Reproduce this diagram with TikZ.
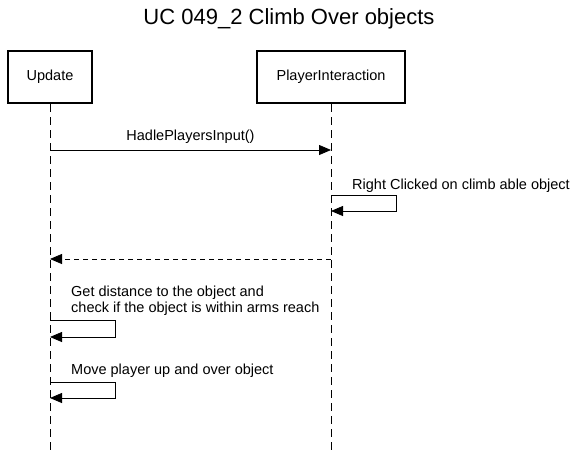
\documentclass[tikz,border=0pt]{standalone}
\usepackage{fontspec}
\setmainfont{Liberation Sans}
\usetikzlibrary{arrows.meta}
\begin{document}
\begin{tikzpicture}[x=1pt,y=-1pt,
  actor/.style={draw=black,line width=2.4pt,minimum width=84pt,minimum height=52pt,inner sep=0pt,font=\fontsize{14.5}{16}\selectfont},
  life/.style={draw=black,line width=0.8pt,dash pattern=on 8pt off 5pt},
  msg/.style={draw=black,line width=0.8pt,-{Triangle[length=12pt,width=10pt]}},
  ret/.style={draw=black,line width=0.8pt,dash pattern=on 5pt off 4pt,-{Triangle[length=12pt,width=10pt]}},
  lbl/.style={font=\fontsize{14.5}{16}\selectfont,inner sep=0pt},
]
\useasboundingbox (0,0) rectangle (580,455);
\node[font=\fontsize{22}{25}\selectfont] (title) at (289,19) {UC 049\_2 Climb Over objects};
\node[actor] (upd) at (50,77) {Update};
\node[actor,minimum width=148pt] (pi) at (331,77) {PlayerInteraction};
\coordinate (updEnd) at (50,452);
\coordinate (piEnd) at (331,452);
\draw[life] (upd.south) -- (updEnd);
\draw[life] (pi.south) -- (piEnd);
% message 1
\coordinate (m1a) at (50,150);
\coordinate (m1b) at (331,150);
\draw[msg] (m1a) -- node[lbl,above=6pt] (l1) {HadlePlayersInput()} (m1b);
% self message on PlayerInteraction
\coordinate (s1a) at (331,195);
\coordinate (s1b) at (396,195);
\coordinate (s1c) at (396,211);
\coordinate (s1d) at (331,211);
\draw[msg] (s1a) -- (s1b) -- (s1c) -- (s1d);
\node[lbl,anchor=base west] (l2) at (352,189) {Right Clicked on climb able object};
% return
\coordinate (r1a) at (331,259);
\coordinate (r1b) at (50,259);
\draw[ret] (r1a) -- (r1b);
% self message 2 on Update
\coordinate (s2a) at (50,320);
\coordinate (s2b) at (115,320);
\coordinate (s2c) at (115,337);
\coordinate (s2d) at (50,337);
\draw[msg] (s2a) -- (s2b) -- (s2c) -- (s2d);
\node[lbl,anchor=base west] (l3) at (71,296) {Get distance to the object and};
\node[lbl,anchor=base west] (l4) at (71,312) {check if the object is within arms reach};
% self message 3 on Update
\coordinate (s3a) at (50,382);
\coordinate (s3b) at (115,382);
\coordinate (s3c) at (115,398);
\coordinate (s3d) at (50,398);
\draw[msg] (s3a) -- (s3b) -- (s3c) -- (s3d);
\node[lbl,anchor=base west] (l5) at (71,374) {Move player up and over object};
\end{tikzpicture}
\end{document}
